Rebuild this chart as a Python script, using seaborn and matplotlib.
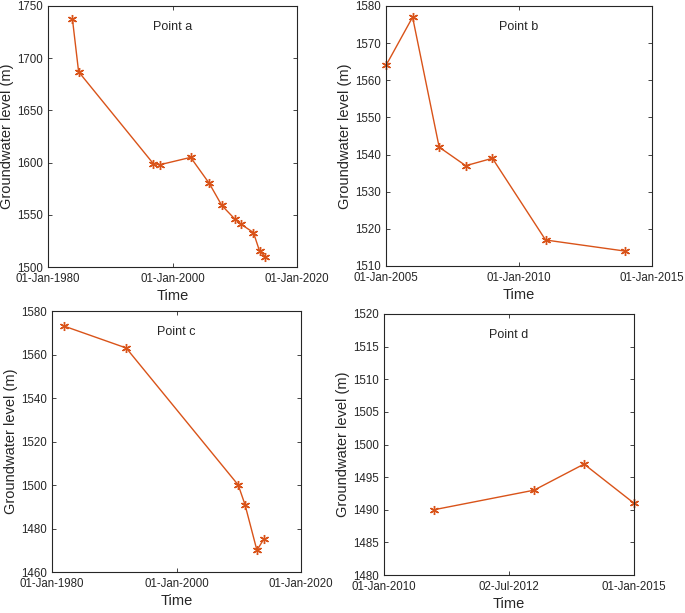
import matplotlib
matplotlib.use("Agg")
import matplotlib.pyplot as plt
import matplotlib.dates as mdates
import seaborn as sns
import pandas as pd

# datos
fechas_a = ["1983-12-01", "1984-12-01", "1996-12-01", "1998-01-01", "2002-12-01",
            "2005-12-01", "2007-12-01", "2010-01-01", "2011-01-01", "2013-01-01",
            "2014-01-01", "2014-12-01"]
nivel_a = [1738, 1687, 1599, 1598, 1605, 1580, 1559, 1546, 1541, 1533, 1515, 1510]

fechas_b = ["2005-01-01", "2006-01-01", "2007-01-01", "2008-01-01", "2009-01-01",
            "2011-01-01", "2014-01-01"]
nivel_b = [1564, 1577, 1542, 1537, 1539, 1517, 1514]

fechas_c = ["1982-01-01", "1991-12-01", "2009-12-01", "2011-01-01", "2012-12-01",
            "2014-01-01"]
nivel_c = [1573, 1563, 1500, 1491, 1470, 1475]

fechas_d = ["2011-01-01", "2013-01-01", "2014-01-01", "2015-01-01"]
nivel_d = [1490, 1493, 1497, 1491]

paneles = [
    ("Point a", fechas_a, nivel_a, ("1980-01-01", "2020-01-01"),
     ["1980-01-01", "2000-01-01", "2020-01-01"], (1500, 1750), 50),
    ("Point b", fechas_b, nivel_b, ("2005-01-01", "2015-01-01"),
     ["2005-01-01", "2010-01-01", "2015-01-01"], (1510, 1580), 10),
    ("Point c", fechas_c, nivel_c, ("1980-01-01", "2020-01-01"),
     ["1980-01-01", "2000-01-01", "2020-01-01"], (1460, 1580), 20),
    ("Point d", fechas_d, nivel_d, ("2010-01-01", "2015-01-01"),
     ["2010-01-01", "2012-07-02", "2015-01-01"], (1480, 1520), 5),
]

# posiciones de los ejes en pixeles (izq, der, arriba, abajo)
cajas = [(48, 297, 6, 267), (386, 652, 6, 266), (52, 301, 311, 572), (384, 634, 314, 575)]

sns.set_style("ticks")
plt.rcParams["font.family"] = ["Liberation Sans", "DejaVu Sans"]
plt.rcParams["xtick.direction"] = "in"
plt.rcParams["ytick.direction"] = "in"

W, H = 685, 613
fig = plt.figure(figsize=(W / 100, H / 100), dpi=100)
color = "#D95319"

for (titulo, fechas, nivel, xlim, xticks, ylim, paso), (l, r, t, b) in zip(paneles, cajas):
    ax = fig.add_axes([l / W, 1 - b / H, (r - l) / W, (b - t) / H])
    df = pd.DataFrame({"fecha": pd.to_datetime(fechas), "nivel": nivel})
    sns.lineplot(data=df, x="fecha", y="nivel", ax=ax, color=color, lw=1.0,
                 marker=(6, 2, 0), markersize=6.5, markeredgecolor=color,
                 markeredgewidth=1.0)
    for ln in ax.lines:
        ln.set_clip_on(False)  # como en MATLAB, los marcadores del borde se ven enteros
    ax.set_xlim(pd.Timestamp(xlim[0]), pd.Timestamp(xlim[1]))
    ax.set_ylim(*ylim)
    ax.set_xticks(pd.to_datetime(xticks))
    ax.xaxis.set_major_formatter(mdates.DateFormatter("%d-%b-%Y"))
    ax.set_yticks(range(ylim[0], ylim[1] + 1, paso))
    ax.tick_params(labelsize=8.3, length=3, width=0.6, top=True, right=True)
    ax.tick_params(axis="x", pad=4.5)
    ax.tick_params(axis="y", pad=3.5)
    ax.set_xlabel("Time", fontsize=10.5, labelpad=2.5)
    ax.set_ylabel("Groundwater level (m)", fontsize=10.5, labelpad=2.5)
    for s in ax.spines.values():
        s.set_linewidth(0.8)
        s.set_color("#262626")
    ax.text(0.5, 0.92, titulo, transform=ax.transAxes, ha="center", va="center",
            fontsize=9)

fig.savefig("out.png", dpi=100)
